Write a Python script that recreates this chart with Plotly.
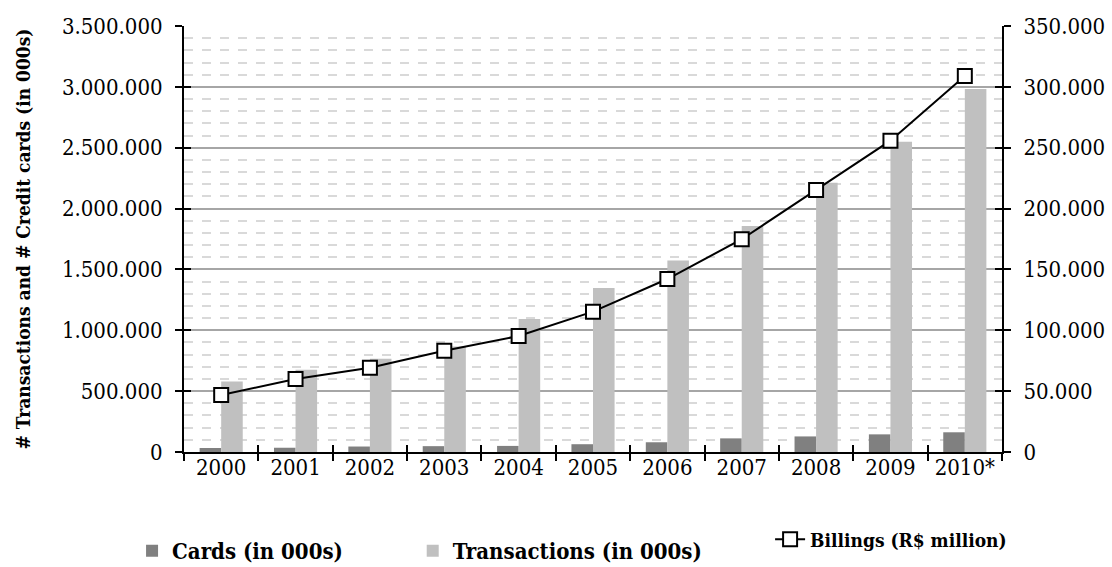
import plotly.graph_objects as go

years = ["2000", "2001", "2002", "2003", "2004", "2005", "2006", "2007", "2008", "2009", "2010*"]
cards = [33000, 35000, 45000, 48000, 50000, 64000, 80000, 112000, 128000, 145000, 162000]
transactions = [579000, 675000, 766000, 867000, 1093000, 1348000, 1573000, 1856000, 2213000, 2548000, 2982000]
billings = [46800, 60000, 69300, 83200, 95300, 115300, 142100, 174800, 215300, 255800, 308900]

FONT = "DejaVu Serif Condensed, DejaVu Serif"

fig = go.Figure()
fig.add_trace(go.Bar(x=years, y=cards, name="Cards (in 000s)", legend="legend",
                     marker=dict(color="#808080", line=dict(width=0))))
fig.add_trace(go.Bar(x=years, y=transactions, name="Transactions (in 000s)", legend="legend2",
                     marker=dict(color="#c0c0c0", line=dict(width=0))))
fig.add_trace(go.Scatter(x=years, y=billings, name="Billings (R$ million)", yaxis="y2",
                         legend="legend3", mode="lines+markers",
                         line=dict(color="black", width=2),
                         marker=dict(symbol="square", size=14, color="white",
                                     line=dict(color="black", width=2))))
# invisible helper traces so the overlay axes (inner tick marks) get drawn
fig.add_trace(go.Scatter(x=years, y=transactions, xaxis="x2", yaxis="y", mode="markers",
                         marker=dict(opacity=0), showlegend=False, hoverinfo="skip"))
fig.add_trace(go.Scatter(x=years, y=transactions, xaxis="x", yaxis="y3", mode="markers",
                         marker=dict(opacity=0), showlegend=False, hoverinfo="skip"))
fig.add_trace(go.Scatter(x=years, y=billings, xaxis="x", yaxis="y4", mode="markers",
                         marker=dict(opacity=0), showlegend=False, hoverinfo="skip"))

legend_font = dict(family=FONT, size=22, color="black", weight="bold")
fig.update_layout(
    width=1112, height=567,
    margin=dict(l=184, r=110, t=26, b=115, autoexpand=False),
    paper_bgcolor="white", plot_bgcolor="white",
    separators=",.",
    font=dict(family=FONT, size=22, color="black"),
    barmode="group", bargap=0.42, bargroupgap=0,
    showlegend=True,
    legend=dict(orientation="h", x=-0.0635, y=-0.232, xanchor="left", yanchor="middle",
                font=legend_font, itemwidth=30, bgcolor="rgba(0,0,0,0)"),
    legend2=dict(orientation="h", x=0.2796, y=-0.232, xanchor="left", yanchor="middle",
                 font=legend_font, itemwidth=30, bgcolor="rgba(0,0,0,0)"),
    legend3=dict(orientation="h", x=0.7165, y=-0.205, xanchor="left", yanchor="middle",
                 font=dict(family=FONT, size=19, color="black", weight="bold"),
                 itemwidth=30, bgcolor="rgba(0,0,0,0)"),
    xaxis=dict(type="category", range=[-0.5, 10.5], showline=True, linecolor="black", linewidth=2,
               ticks="outside", tickson="boundaries", ticklen=7, tickwidth=2, tickcolor="black",
               ticklabelstandoff=-5, tickangle=0, showgrid=False),
    xaxis2=dict(type="category", overlaying="x", anchor="y", range=[-0.5, 10.5], ticks="inside",
                tickson="boundaries", ticklen=7, tickwidth=2, tickcolor="black",
                showticklabels=False, showgrid=False, showline=False, side="bottom",
                categoryarray=years, categoryorder="array"),
    yaxis=dict(range=[0, 3500000], dtick=500000, tickformat=",d",
               showline=True, linecolor="black", linewidth=2,
               ticks="outside", ticklen=7, tickwidth=2, tickcolor="black",
               ticklabelstandoff=8,
               showgrid=True, gridcolor="#a6a6a6", gridwidth=1.5,
               minor=dict(dtick=100000, showgrid=True, gridcolor="#d9d9d9", griddash="dash",
                          gridwidth=1.5, ticks=""),
               zeroline=False,
               title=dict(text="<b># Transactions and # Credit cards (in 000s)</b>",
                          font=dict(family=FONT, size=19), standoff=26)),
    yaxis2=dict(range=[0, 350000], dtick=50000, tickformat=",d", overlaying="y", side="right",
                showline=True, linecolor="black", linewidth=2,
                ticks="outside", ticklen=7, tickwidth=2, tickcolor="black",
                ticklabelstandoff=8, showgrid=False, zeroline=False),
    yaxis3=dict(range=[0, 3500000], dtick=500000, overlaying="y", side="left", anchor="x",
                ticks="inside", ticklen=7, tickwidth=2, tickcolor="black",
                showticklabels=False, showgrid=False, showline=False, zeroline=False),
    yaxis4=dict(range=[0, 350000], dtick=50000, overlaying="y", side="right", anchor="x",
                ticks="inside", ticklen=7, tickwidth=2, tickcolor="black",
                showticklabels=False, showgrid=False, showline=False, zeroline=False),
)

fig.write_html("out.html")
